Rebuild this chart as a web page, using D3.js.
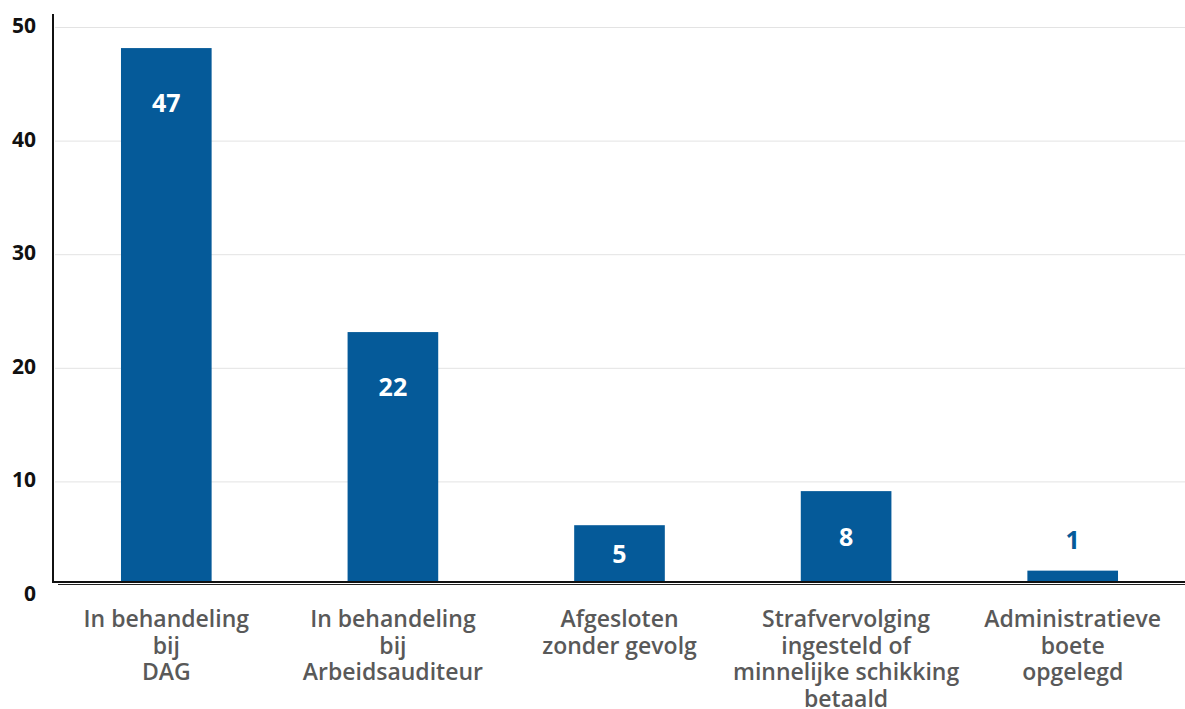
<!DOCTYPE html>
<html>
<head>
<meta charset="utf-8">
<script src="https://cdn.jsdelivr.net/npm/d3@7"></script>
<style>
  body { margin: 0; background: #fff; }
  svg { display: block; }
  svg text { font-family: 'Open Sans', sans-serif; }
  .grid line { stroke: #e3e3e3; stroke-width: 1; }
  .y.axis text { font-size: 21px; font-weight: 700; fill: #111; }
  .cat { font-size: 23px; font-weight: 600; fill: #595959; }
  .val { font-size: 25px; font-weight: 700; }
</style>
</head>
<body>
<div id="chart"></div>
<script>
var categories = [
  ['In behandeling', 'bij', 'DAG'],
  ['In behandeling', 'bij', 'Arbeidsauditeur'],
  ['Afgesloten', 'zonder gevolg'],
  ['Strafvervolging', 'ingesteld of', 'minnelijke schikking', 'betaald'],
  ['Administratieve', 'boete', 'opgelegd']
];
var values = [47, 22, 5, 8, 1];
var yTicks = [0, 10, 20, 30, 40, 50];

var W = 1185, H = 709;
var left = 53, right = 1186, base = 582;
var barColor = '#055a99';

var svg = d3.select('#chart')
  .append('svg')
  .attr('width', W)
  .attr('height', H);

var x = d3.scaleBand()
  .domain(d3.range(values.length))
  .range([left, right])
  .paddingInner(0.6)
  .paddingOuter(0.3);

var y = d3.scaleLinear()
  .domain([0, 50])
  .range([base, 14]);

// ticks and gridlines sit a bit lower than the bars in the original
var axisShift = 13;

var grid = svg.append('g')
  .attr('class', 'grid')
  .attr('transform', 'translate(0,' + axisShift + ')');
grid.selectAll('line')
  .data(yTicks.filter(function(d) { return d > 0; }))
  .enter()
  .append('line')
  .attr('x1', left + 2)
  .attr('x2', W)
  .attr('y1', function(d) { return y(d) + 0.5; })
  .attr('y2', function(d) { return y(d) + 0.5; });

var yAxis = d3.axisLeft(y)
  .tickValues(yTicks)
  .tickSize(0)
  .tickPadding(17);
var yg = svg.append('g')
  .attr('class', 'y axis')
  .attr('transform', 'translate(' + left + ',' + (axisShift - 2) + ')')
  .call(yAxis);
yg.select('.domain').remove();
yg.selectAll('text').attr('dy', '0.36em');

// bars
svg.selectAll('rect.bar')
  .data(values)
  .enter()
  .append('rect')
  .attr('class', 'bar')
  .attr('x', function(d, i) { return x(i); })
  .attr('width', x.bandwidth())
  .attr('y', function(d) { return y(d); })
  .attr('height', function(d) { return base - y(d); })
  .attr('fill', barColor);

// value labels
svg.selectAll('text.val')
  .data(values)
  .enter()
  .append('text')
  .attr('class', 'val')
  .attr('text-anchor', 'middle')
  .attr('x', function(d, i) { return x(i) + x.bandwidth() / 2; })
  .attr('y', function(d) {
    var top = y(d), h = base - top;
    if (h < 30) return top - 22;
    return Math.min(top + 64, (top + base) / 2 + 9.5);
  })
  .attr('fill', function(d) { return base - y(d) < 30 ? barColor : '#fff'; })
  .text(function(d) { return d; });

// axis lines
svg.append('line')
  .attr('x1', left).attr('x2', left)
  .attr('y1', 14).attr('y2', base + 1)
  .attr('stroke', '#111').attr('stroke-width', 2);
svg.append('line')
  .attr('x1', left - 1).attr('x2', W)
  .attr('y1', base).attr('y2', base)
  .attr('stroke', '#111').attr('stroke-width', 2);
svg.append('line')
  .attr('x1', left + 5).attr('x2', W)
  .attr('y1', base + 2.5).attr('y2', base + 2.5)
  .attr('stroke', '#222').attr('stroke-width', 1.2);

// category labels
var cats = svg.selectAll('text.cat')
  .data(categories)
  .enter()
  .append('text')
  .attr('class', 'cat')
  .attr('text-anchor', 'middle')
  .attr('x', function(d, i) { return x(i) + x.bandwidth() / 2; })
  .attr('y', 627);
cats.selectAll('tspan')
  .data(function(d) { return d; })
  .enter()
  .append('tspan')
  .attr('x', function() { return d3.select(this.parentNode).attr('x'); })
  .attr('dy', function(d, i) { return i === 0 ? 0 : 26.7; })
  .text(function(d) { return d; });
</script>
</body>
</html>
